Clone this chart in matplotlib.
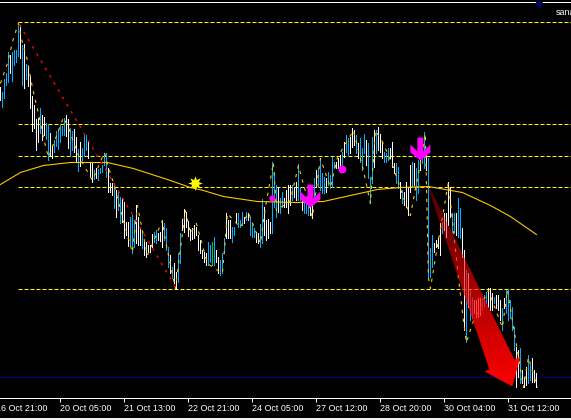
import numpy as np
import matplotlib
matplotlib.use('Agg')
import matplotlib.pyplot as plt
from matplotlib.patches import Polygon, Rectangle

# no price scale is visible, so levels are kept as chart rows (0 = top of picture)
bar_top = [87,92,79,73,52,55,52,50,50,26, 25,45,44,64,66,76,96,105,119,118,
           108,115,117,123,124,133,145,140,131,129, 125,126,118,115,119,128,131,129,137,149,
           142,148,135,135,142,162,163,170,168,169, 168,165,154,153,168,183,183,183,190,192,
           197,198,202,222,222,217,215,220,205,217, 228,232,242,242,245,245,234,232,230,233,
           232,220,223,228,247,255,267,263,272,253, 233,219,209,212,221,229,228,225,227,235,
           240,250,252,253,242,245,242,237,250,257, 260,253,238,213,220,220,227,227,213,213,
           220,212,217,212,213,217,223,228,232,233, 224,199,207,220,219,222,162,172,185,187,
           198,192,198,190,185,185,185,187,182,164, 187,200,197,200,205,202,198,178,170,168,
           158,173,177,178,172,175,157,162,162,158, 155,152,142,135,138,137,128,130,135,143,
           138,148,134,140,143,177,137,130,130,127, 134,142,152,153,148,148,142,163,163,167,
           182,190,192,182,188,165,162,163,168,160, 143,150,132,150,158,248,235,243,240,238,
           223,222,213,213,182,187,213,213,213,198, 208,228,250,270,273,290,297,300,300,298,
           298,298,295,292,288,288,293,297,295,295, 300,308,298,290,290,300,307,327,347,350,
           348,370,377,367,355,365,358,370,373]
bar_bot = [100,107,98,85,82,73,81,65,62,56, 58,85,88,79,86,108,131,128,150,142,
           133,140,135,139,160,156,158,152,146,149, 142,135,135,136,148,155,150,152,162,171,
           166,160,156,150,158,176,182,179,178,180, 173,172,165,177,192,192,195,208,217,210,
           223,222,238,235,246,245,253,247,243,245, 245,248,255,257,252,252,247,242,243,240,
           241,247,240,250,267,273,278,283,289,282, 263,230,232,227,236,240,239,238,235,250,
           253,258,262,265,265,262,265,265,262,273, 275,273,253,238,238,238,242,235,222,227,
           227,225,223,220,220,235,237,237,242,243, 247,243,235,240,238,233,233,207,217,212,
           213,207,207,207,213,205,200,197,200,200, 200,210,213,213,215,215,218,197,187,186,
           190,193,193,192,185,188,187,168,168,168, 168,167,157,152,155,153,147,145,153,158,
           162,170,153,165,178,203,183,167,153,150, 152,158,162,162,160,158,167,173,183,188,
           198,203,205,207,215,192,187,185,200,193, 170,163,168,170,277,277,267,252,247,248,
           255,233,230,237,225,217,232,232,235,237, 238,257,330,342,307,320,318,313,317,317,
           315,310,307,303,307,310,310,303,308,310, 320,330,308,313,320,318,330,350,387,377,
           383,383,387,385,383,380,382,382,387]
bar_kind = ("wcccc" "wcccc" "wcwcw" "wwww" "w" "cwwcc" "wwccc" "cccww" "ccwwc" "wcccw"
            "wwcwc" "ccccw" "wwcwc" "cwwww" "cccww" "wcwww" "wwccw" "wwccc" "wcwwc" "cwwww"
            "wwwww" "wwwwc" "cgcww" "cccww" "wccwc" "ccwcw" "cccww" "ccwww" "wcccw" "ccwww"
            "wcwwc" "cwccc" "wwcwc" "cccwc" "cccww" "wcwcc" "wwwcw" "cccwc" "ccwcw" "wwccc"
            "wwwcc" "wcwww" "wcwcc" "wccwc" "ccwww" "wcwww" "wccwc" "cwwcw" "ccwww" "wcccw"
            "wwcww" "wcwcc" "cccww" "cwwwc" "cwwwc" "cwcwc" "ccwcc" "wwcww" "wwcwc" "ccww")

# yellow trace of the price, (column, row)
trace_col = [0,7,13,18,22,27,32,35,38,43,48,63,68,78,92,104,108,113,123,132,137,147,162,165,175,
             182,185,190,196,207,222,227,240,248,260,265,273,276,290,298,312,320,330,337,353,363,
             370,375,383,393,405,410,420,425,428,430,438,448,458,463,466,472,488,502,507,517,523,528,537]
trace_row = [83,63,38,23,42,60,87,100,113,137,157,117,127,155,180,152,167,182,220,252,205,255,220,240,288,
             233,210,233,223,263,273,213,227,212,243,207,162,210,200,165,217,158,187,157,130,170,
             203,130,143,167,203,215,163,133,277,288,240,182,277,320,342,323,290,327,290,350,387,357,387]

ma_col = [0,20,43,70,107,133,167,190,203,223,257,297,323,350,377,400,428,462,490,510,536]
ma_row = [184,172,165,162,162,168,179,187,190,196,201,202,201,195,189,187,186,192,205,216,234]

level_rows = [22,124,156,187,289]
level_start_col = 18
zigzag_col = [19,176]
zigzag_row = [24,288]
blue_row = 377

down_col = [310,420]
down_row = [207,160]
dot_col = [272,342]
dot_row = [198,169]
dot_size = [19,33]
star_col = [195]
star_row = [183]

red_head_tip = (512,386)

tick_cols = [-4,60,124,188,252,316,380,444,508]
tick_labels = ['16 Oct 21:00','20 Oct 05:00','21 Oct 13:00','22 Oct 21:00','24 Oct 05:00',
               '27 Oct 12:00','28 Oct 20:00','30 Oct 04:00','31 Oct 12:00']

CYAN = '#00b0ff'
YELLOW = '#ffff00'
GOLD = '#ffc800'
PX = 0.72  # one pixel in points at dpi 100

plt.rcParams['font.family'] = ['Liberation Sans', 'DejaVu Sans']

fig = plt.figure(figsize=(5.71, 4.2), dpi=100, facecolor='black')
# axes run a little past the left edge so the clipped first label still shows
OFF = 10
XLIM = (-OFF/2 - 0.2, 285.3)
YLIM = (397.5, 1.5)
ax = fig.add_axes([-OFF/571, 22/420, (571+OFF)/571, 396/420], facecolor='black')
ax.set_xlim(*XLIM)
ax.set_ylim(*YLIM)

def c2b(cols):
    return np.asarray(cols) / 2

n = min(len(bar_top), len(bar_bot), len(bar_kind))
idx = np.arange(n)
top = np.array(bar_top[:n])
bot = np.array(bar_bot[:n])
kind = np.array(list(bar_kind[:n]))
for k, col in (('w', 'white'), ('c', CYAN), ('g', '#00cc44')):
    m = kind == k
    ax.vlines(idx[m], top[m], bot[m], colors=col, linewidth=PX, antialiased=False, zorder=3)

ax.hlines(blue_row, -10, 290, colors='#000080', linewidth=PX, antialiased=False, zorder=1)
ax.hlines(level_rows, level_start_col/2, 290, colors=YELLOW, linewidth=PX,
          linestyles=(0, (4, 2)), zorder=2)
ax.plot(c2b(trace_col), trace_row, color=GOLD, lw=PX*1.1, ls=(0, (3, 5)), zorder=4)
ax.plot(c2b(ma_col), ma_row, color=GOLD, lw=PX*1.1, zorder=4)
ax.plot(c2b(zigzag_col), zigzag_row, color='#ff0000', lw=PX*1.4, ls=(0, (2, 4)), zorder=4)

# big fading arrow
tx, ty = red_head_tip
shape = [(-84,-198),(-82,-198),(2,-27),(8,-30),(0,0),(-28,-15),(-23,-17)]
pts = [(c2b(tx+dx), ty+dy) for dx, dy in shape]
clip = Polygon(pts, closed=True, transform=ax.transData, fc='none', ec='none')
ax.add_patch(clip)
grad = np.zeros((200, 2, 4))
grad[:, :, 0] = 1
grad[:, :, 3] = np.linspace(0.3, 1, 200)[:, None]
im = ax.imshow(grad, extent=(c2b(tx-90), c2b(tx+12), ty, ty-200), aspect='auto', zorder=5, interpolation='bilinear')
im.set_clip_path(clip)
ax.set_xlim(*XLIM)
ax.set_ylim(*YLIM)

# signals
arrow_shape = [(-3,-23),(3,-23),(3,-9),(10,-16),(10,-8),(0,0),(-10,-8),(-10,-16),(-3,-9)]
for c, r in zip(down_col, down_row):
    ax.add_patch(Polygon([(c2b(c+dx), r+dy) for dx, dy in arrow_shape], closed=True,
                         fc='#ff00ff', ec='none', zorder=6))
ax.scatter(c2b(dot_col), dot_row, s=dot_size, c='#ff00ff', linewidths=0, zorder=6)
ax.scatter(c2b(star_col), star_row, s=110, c=YELLOW, marker=(8, 1, 0), linewidths=0, zorder=6)
ax.scatter(c2b([539]), [5], s=30, c='#000080', marker='v', linewidths=0, zorder=6)
ax.text(c2b(555), 12, 'sana', color='white', fontsize=6.4, va='center', ha='left', zorder=7)

for s in ('left', 'right'):
    ax.spines[s].set_visible(False)
for s in ('top', 'bottom'):
    ax.spines[s].set_color('white')
    ax.spines[s].set_linewidth(PX)
ax.set_yticks([])
ax.set_xticks(c2b(tick_cols))
ax.set_xticklabels(tick_labels, ha='left', color='white', fontsize=6.4)
ax.tick_params(axis='x', colors='white', length=3, width=PX, pad=1.2)

fig.add_artist(Rectangle((0, 0), 1, 2/420, transform=fig.transFigure, fc='#f0f0f0', ec='none'))

fig.savefig('out.png', dpi=100, facecolor='black')
